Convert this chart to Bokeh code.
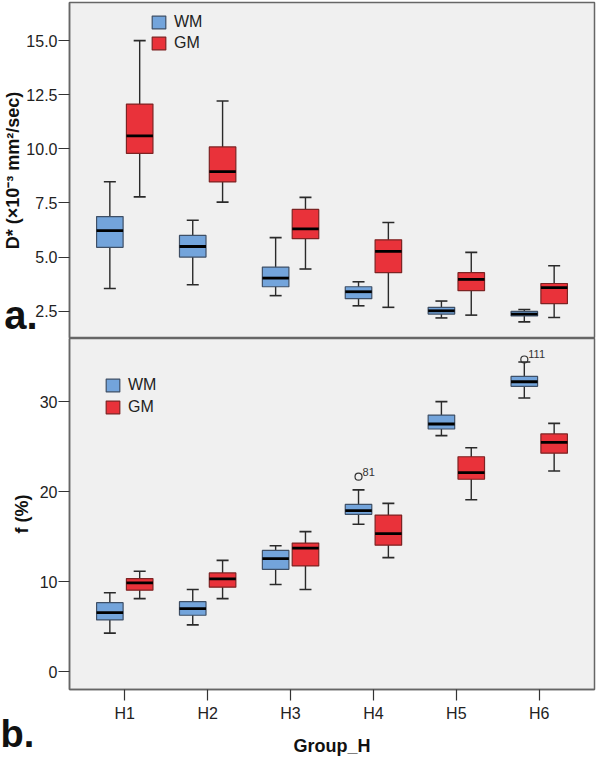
from bokeh.plotting import figure
from bokeh.models import (ColumnDataSource, FactorRange, Range1d, FixedTicker,
                          PrintfTickFormatter, Legend, LegendItem, LinearAxis, Title)
from bokeh.transform import dodge
from bokeh.layouts import column
from bokeh.embed import file_html
from bokeh.resources import INLINE
from bokeh.core.properties import value

# ---------------- data ----------------
groups = ["H1", "H2", "H3", "H4", "H5", "H6"]

# panel a: D* (x10^-3 mm^2/sec)
dstar_wm_lo = [3.55, 3.72, 3.22, 2.75, 2.19, 2.01]
dstar_wm_q1 = [5.45, 5.00, 3.63, 3.08, 2.37, 2.28]
dstar_wm_med = [6.22, 5.49, 4.03, 3.40, 2.52, 2.37]
dstar_wm_q3 = [6.87, 6.00, 4.54, 3.63, 2.68, 2.49]
dstar_wm_hi = [8.48, 6.70, 5.90, 3.86, 2.97, 2.58]

dstar_gm_lo = [7.78, 7.54, 4.45, 2.68, 2.32, 2.21]
dstar_gm_q1 = [9.79, 8.47, 5.85, 4.28, 3.45, 2.85]
dstar_gm_med = [10.60, 8.95, 6.30, 5.26, 3.97, 3.59]
dstar_gm_q3 = [12.07, 10.09, 7.20, 5.80, 4.28, 3.78]
dstar_gm_hi = [15.00, 12.21, 7.76, 6.60, 5.22, 4.60]

dstar_ticks = [2.5, 5.0, 7.5, 10.0, 12.5, 15.0]

# panel b: f (%)
f_wm_lo = [4.31, 5.22, 9.70, 16.39, 26.22, 30.40]
f_wm_q1 = [5.77, 6.29, 11.39, 17.49, 26.96, 31.69]
f_wm_med = [6.59, 7.03, 12.57, 17.89, 27.51, 32.20]
f_wm_q3 = [7.69, 7.80, 13.48, 18.59, 28.50, 32.79]
f_wm_hi = [8.79, 9.15, 14.00, 20.20, 30.00, 34.40]

f_gm_lo = [8.13, 8.13, 9.15, 12.68, 19.10, 22.29]
f_gm_q1 = [9.07, 9.41, 11.76, 14.07, 21.38, 24.27]
f_gm_med = [9.89, 10.33, 13.74, 15.35, 22.11, 25.48]
f_gm_q3 = [10.36, 10.99, 14.30, 17.41, 23.88, 26.41]
f_gm_hi = [11.17, 12.38, 15.57, 18.70, 24.87, 27.58]

f_wm_outlier_group = ["H4", "H6"]
f_wm_outlier_value = [21.67, 34.67]
f_wm_outlier_label = ["81", "111"]

f_ticks = [0, 10, 20, 30]

series_names = ["WM", "GM"]
panel_tags = ["a.", "b."]

# ---------------- style ----------------
FONT = "Liberation Sans"
WM_FILL, WM_LINE = "#73a4db", "#3e4f66"
GM_FILL, GM_LINE = "#e9323a", "#7d2323"
WHISK = "#2a2a2a"
OFFSET = 0.18
BOX_W = 0.32
TAG_Y = 2.19   # vertical anchor (in D* units) of the panel tag "a."

x_range = FactorRange(factors=groups, range_padding=0.1667,
                      range_padding_units="absolute")


def make_src(lo, q1, med, q3, hi):
    return ColumnDataSource(dict(group=groups, lo=lo, q1=q1, med=med, q3=q3, hi=hi))


def draw_boxes(p, src, off, fill, line):
    xx = dodge("group", off, range=p.x_range)
    p.segment(x0=xx, y0="lo", x1=xx, y1="hi", source=src,
              line_color=WHISK, line_width=1.4)
    p.scatter(x=xx, y="hi", source=src, marker="dash", size=12,
              line_color=WHISK, line_width=1.6)
    p.scatter(x=xx, y="lo", source=src, marker="dash", size=12,
              line_color=WHISK, line_width=1.6)
    box = p.vbar(x=xx, width=BOX_W, bottom="q1", top="q3", source=src,
                 fill_color=fill, line_color=line, line_width=1.2)
    p.rect(x=xx, y="med", width=BOX_W, height=2.8, height_units="screen",
           source=src, fill_color="black", line_color=None)
    return box


def style(p):
    p.background_fill_color = "#f0f0f0"
    p.border_fill_color = "white"
    p.outline_line_color = "#666666"
    p.outline_line_width = 1.5
    p.grid.visible = False
    for ax in p.yaxis:
        ax.axis_line_color = "#666666"
        ax.axis_line_width = 1.5
        ax.major_tick_out = 11
        ax.major_tick_in = 0
        ax.minor_tick_out = 0
        ax.minor_tick_in = 0
        ax.major_tick_line_color = "#333333"
        ax.major_tick_line_width = 1.2
        ax.major_label_standoff = 1
        ax.major_label_text_font = FONT
        ax.major_label_text_font_size = "16px"
        ax.major_label_text_color = "#222222"
        ax.axis_label_text_font = FONT
        ax.axis_label_text_font_size = "18px"
        ax.axis_label_text_font_style = "bold"
        ax.axis_label_text_color = "#111111"


def add_legend(p, r_wm, r_gm, loc, spacing):
    leg = Legend(items=[LegendItem(label=series_names[0], renderers=[r_wm]),
                        LegendItem(label=series_names[1], renderers=[r_gm])],
                 location=loc, orientation="vertical",
                 glyph_width=17, glyph_height=16, label_height=16,
                 label_standoff=7, spacing=spacing, padding=0, margin=0,
                 border_line_color=None, background_fill_alpha=0,
                 label_text_font=FONT, label_text_font_size="16px",
                 label_text_color="#222222")
    p.add_layout(leg, "center")


# ---------------- panel a ----------------
pa = figure(width=597, height=338, x_range=x_range, y_range=Range1d(1.24, 16.76),
            x_axis_location=None, toolbar_location=None, output_backend="svg",
            min_border_left=69, min_border_right=3, min_border_top=2,
            min_border_bottom=0)
style(pa)
pa.yaxis.ticker = FixedTicker(ticks=dstar_ticks)
pa.yaxis.formatter = PrintfTickFormatter(format="%.1f")
pa.yaxis.axis_label = "D* (×10⁻³ mm²/sec)"
pa.yaxis.axis_label_standoff = 0

src_a_wm = make_src(dstar_wm_lo, dstar_wm_q1, dstar_wm_med, dstar_wm_q3, dstar_wm_hi)
src_a_gm = make_src(dstar_gm_lo, dstar_gm_q1, dstar_gm_med, dstar_gm_q3, dstar_gm_hi)
ra_wm = draw_boxes(pa, src_a_wm, -OFFSET, WM_FILL, WM_LINE)
ra_gm = draw_boxes(pa, src_a_gm, OFFSET, GM_FILL, GM_LINE)
add_legend(pa, ra_wm, ra_gm, (81, 286), 3)

# panel tag "a." drawn as the only label of a bare extra axis on the left
tag_axis = LinearAxis(ticker=FixedTicker(ticks=[TAG_Y]),
                      major_label_overrides={TAG_Y: panel_tags[0]},
                      axis_line_color=None, major_tick_line_color=None,
                      minor_tick_line_color=None, major_tick_out=0, major_tick_in=0,
                      minor_tick_out=0, minor_tick_in=0,
                      major_label_standoff=-37,
                      major_label_text_font=FONT, major_label_text_font_size="40px",
                      major_label_text_font_style="bold",
                      major_label_text_color="#111111")
pa.add_layout(tag_axis, "left")

# ---------------- panel b ----------------
pb = figure(width=597, height=420, x_range=x_range, y_range=Range1d(-1.95, 37.0),
            toolbar_location=None, output_backend="svg",
            min_border_left=69, min_border_right=3, min_border_top=0,
            min_border_bottom=66)
style(pb)
pb.yaxis.ticker = FixedTicker(ticks=f_ticks)
pb.yaxis.axis_label = "f (%)"
pb.yaxis.axis_label_standoff = 5

xa = pb.xaxis[0]
xa.axis_line_color = "#666666"
xa.axis_line_width = 1.5
xa.major_tick_out = 11
xa.major_tick_in = 0
xa.major_tick_line_color = "#333333"
xa.major_tick_line_width = 1.2
xa.major_label_standoff = 4
xa.major_label_text_font = FONT
xa.major_label_text_font_size = "16px"
xa.major_label_text_color = "#222222"
xa.axis_label = "Group_H"
xa.axis_label_standoff = 11
xa.axis_label_text_font = FONT
xa.axis_label_text_font_size = "18px"
xa.axis_label_text_font_style = "bold"
xa.axis_label_text_color = "#111111"

src_b_wm = make_src(f_wm_lo, f_wm_q1, f_wm_med, f_wm_q3, f_wm_hi)
src_b_gm = make_src(f_gm_lo, f_gm_q1, f_gm_med, f_gm_q3, f_gm_hi)
rb_wm = draw_boxes(pb, src_b_wm, -OFFSET, WM_FILL, WM_LINE)
rb_gm = draw_boxes(pb, src_b_gm, OFFSET, GM_FILL, GM_LINE)

src_out = ColumnDataSource(dict(group=f_wm_outlier_group, val=f_wm_outlier_value,
                                lab=f_wm_outlier_label))
xo = dodge("group", -OFFSET, range=pb.x_range)
pb.scatter(x=xo, y="val", source=src_out, marker="circle", size=7,
           fill_color=None, line_color="#333333", line_width=1.2)
pb.text(x=xo, y="val", text="lab", source=src_out, x_offset=4, y_offset=-5,
        text_font=value(FONT), text_font_size="11px", text_color="#333333",
        text_baseline="alphabetic", text_align="left")

add_legend(pb, rb_wm, rb_gm, (35, 273), 4)

# panel tag "b." as a bottom-left title pulled up into the axis area
pb.add_layout(Title(text=panel_tags[1], align="left", vertical_align="top",
                    offset=-69, standoff=-91, text_font=FONT,
                    text_font_size="38px", text_font_style="bold",
                    text_color="#111111"), "below")

layout = column(pa, pb, spacing=0)
open("out.html", "w").write(file_html(layout, INLINE))
